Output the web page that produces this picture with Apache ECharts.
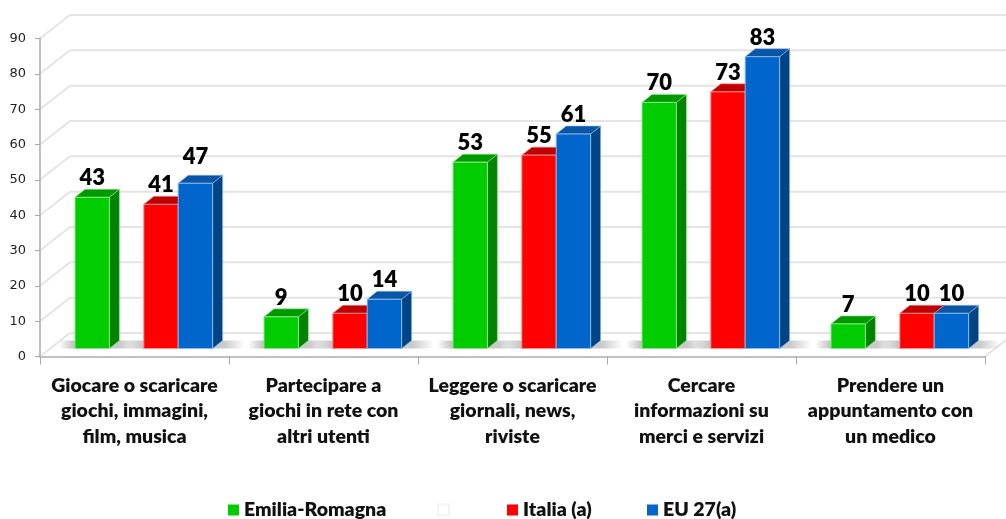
<!DOCTYPE html>
<html>
<head>
<meta charset="utf-8">
<style>html,body{margin:0;padding:0;background:#fff}#main{width:1006px;height:519px}</style>
<script src="https://cdn.jsdelivr.net/npm/echarts@6/dist/echarts.min.js"></script>
</head>
<body>
<div id="main"></div>
<script>
const categories = [
    ['Giocare o scaricare', 'giochi, immagini,', 'film, musica'],
    ['Partecipare a', 'giochi in rete con', 'altri utenti'],
    ['Leggere o scaricare', 'giornali, news,', 'riviste'],
    ['Cercare', 'informazioni su', 'merci e servizi'],
    ['Prendere un', 'appuntamento con', 'un medico']
];
const emilia = [43, 9, 53, 70, 7];
const blank = [];
const italia = [41, 10, 55, 73, 10];
const eu27 = [47, 14, 61, 83, 10];
const yTicks = [0, 10, 20, 30, 40, 50, 60, 70, 80, 90];

const chart = echarts.init(document.getElementById('main'));

// fake 3D: the wall sits up and to the right of the axis plane
const wallDx = 30, wallDy = -23.5;
const barDx = 10, barDy = -8, baseLift = 8;
const slotW = 34.4, groupShift = 9.3, depthScale = 0.995;
const font = 'Lato';

const palette = {
    green: { front: '#00cc00', top: '#009a00', side: '#008400', edge: '#86e886' },
    red: { front: '#ff0000', top: '#c00000', side: '#b00000', edge: '#ff8a8a' },
    blue: { front: '#0066cc', top: '#0a55a5', side: '#004488', edge: '#8ab8e8' }
};

function wallItem(params, api) {
    const grid = params.coordSys;
    const y = api.coord([0, api.value(0)])[1];
    const line = { stroke: '#e4e4e4', lineWidth: 2 };
    const right = grid.x + grid.width;
    const children = [
        { type: 'line', shape: { x1: grid.x, y1: y, x2: grid.x + wallDx, y2: y + wallDy }, style: line },
        { type: 'line', shape: { x1: grid.x + wallDx, y1: y + wallDy, x2: right + wallDx, y2: y + wallDy }, style: line }
    ];
    if (api.value(0) === 0) {
        children.push({ type: 'line', shape: { x1: right, y1: y, x2: right + wallDx, y2: y + wallDy }, style: line });
    }
    return { type: 'group', children };
}

function slotX(api, slot) {
    return api.coord([api.value(0), 0])[0] + groupShift + (slot - 2) * slotW;
}

// soft floor shadow, drawn in its own series so it stays behind every bar
function shadowItem(slot) {
    return function (params, api) {
        const x = slotX(api, slot);
        const y0 = api.coord([0, 0])[1] - baseLift;
        return {
            type: 'rect',
            shape: { x: x - 16, y: y0 - 8, width: slotW + 48, height: 8 },
            style: {
                fill: new echarts.graphic.LinearGradient(0, 0, 1, 0, [
                    { offset: 0, color: 'rgba(160,160,160,0)' },
                    { offset: 0.2, color: 'rgba(160,160,160,0.7)' },
                    { offset: 0.75, color: 'rgba(160,160,160,0.55)' },
                    { offset: 1, color: 'rgba(160,160,160,0)' }
                ])
            }
        };
    };
}

function barItem(slot, colors, name) {
    return function (params, api) {
        const x = slotX(api, slot);
        const y0 = api.coord([0, 0])[1] - baseLift;
        const h = api.size([0, api.value(1)])[1] * depthScale;
        const top = y0 - h;
        const side = {
            type: 'polygon',
            shape: { points: [[x + slotW, top], [x + slotW + barDx, top + barDy], [x + slotW + barDx, y0 + barDy], [x + slotW, y0]] },
            style: { fill: colors.side, stroke: colors.edge, lineWidth: 0.6 }
        };
        const cap = {
            type: 'polygon',
            shape: { points: [[x, top], [x + barDx, top + barDy], [x + slotW + barDx, top + barDy], [x + slotW, top]] },
            style: { fill: colors.top, stroke: colors.edge, lineWidth: 0.6 }
        };
        const front = {
            type: 'rect',
            shape: { x, y: top, width: slotW, height: h },
            style: { fill: colors.front, stroke: colors.edge, lineWidth: 1 }
        };
        // the first blue label sits higher in the original
        const nudge = name === 'EU 27(a)' && api.value(0) === 0 ? -7 : 0;
        const label = {
            type: 'text',
            style: {
                x: x + slotW / 2, y: top + barDy + nudge,
                text: String(api.value(1)),
                fill: '#000', font: '800 22px ' + font,
                align: 'center', verticalAlign: 'bottom'
            }
        };
        return { type: 'group', children: [side, cap, front, label] };
    };
}

function shadowSeries(values, slot) {
    return {
        name: 'shadow' + slot, type: 'custom', silent: true, clip: false,
        renderItem: shadowItem(slot), encode: { x: 0, y: 1 },
        data: values.map((v, i) => [i, v])
    };
}

function barSeries(name, values, slot, colors) {
    return {
        name,
        type: 'custom',
        coordinateSystem: 'cartesian2d',
        clip: false,
        itemStyle: { color: colors.front },
        renderItem: barItem(slot, colors, name),
        encode: { x: 0, y: 1 },
        data: values.map((v, i) => [i, v])
    };
}

const legendBase = {
    icon: 'rect', itemWidth: 11, itemHeight: 11, itemGap: 0, padding: 0,
    top: 500, selectedMode: false,
    textStyle: { fontFamily: font, fontWeight: 800, fontSize: 19.5, color: '#111' }
};

chart.setOption({
    animation: false,
    backgroundColor: '#fff',
    grid: { left: 40, top: 38.5, width: 945, height: 318 },
    legend: [
        Object.assign({}, legendBase, { left: 228, data: ['Emilia-Romagna'] }),
        Object.assign({}, legendBase, { left: 437, data: [' '] }),
        Object.assign({}, legendBase, { left: 507, data: ['Italia (a)'] }),
        Object.assign({}, legendBase, { left: 647, data: ['EU 27(a)'] })
    ],
    xAxis: {
        type: 'category',
        data: categories.map(c => c.join('\n')),
        axisLine: { lineStyle: { color: '#c0c0c0', width: 2 } },
        axisTick: { show: true, alignWithLabel: false, length: 8, lineStyle: { color: '#a8a8a8', width: 1 } },
        axisLabel: {
            interval: 0, margin: 16, lineHeight: 25.5, fontFamily: font,
            fontWeight: 800, fontSize: 19.5, color: '#111'
        },
        splitLine: { show: false }
    },
    yAxis: {
        type: 'value', min: 0, max: 90, interval: 10,
        axisLine: { show: true, lineStyle: { color: '#bdbdbd', width: 2 } },
        axisTick: { show: true, length: 5, lineStyle: { color: '#a8a8a8', width: 1 } },
        axisLabel: { fontFamily: 'DejaVu Sans', fontSize: 13, color: '#222', margin: 14, padding: [5, 0, 0, 0] },
        splitLine: { show: false }
    },
    series: [
        {
            name: 'wall', type: 'custom', clip: false, silent: true, z: 0,
            renderItem: wallItem, encode: { y: 0 },
            data: yTicks.map(v => [v])
        },
        shadowSeries(emilia, 0),
        shadowSeries(italia, 2),
        shadowSeries(eu27, 3),
        barSeries('Emilia-Romagna', emilia, 0, palette.green),
        {
            name: ' ', type: 'custom', data: blank, renderItem: () => null,
            itemStyle: { color: '#fff', borderColor: '#f4f4f4', borderWidth: 1 }
        },
        barSeries('Italia (a)', italia, 2, palette.red),
        barSeries('EU 27(a)', eu27, 3, palette.blue)
    ]
});
window.onresize = () => chart.resize();
</script>
</body>
</html>
